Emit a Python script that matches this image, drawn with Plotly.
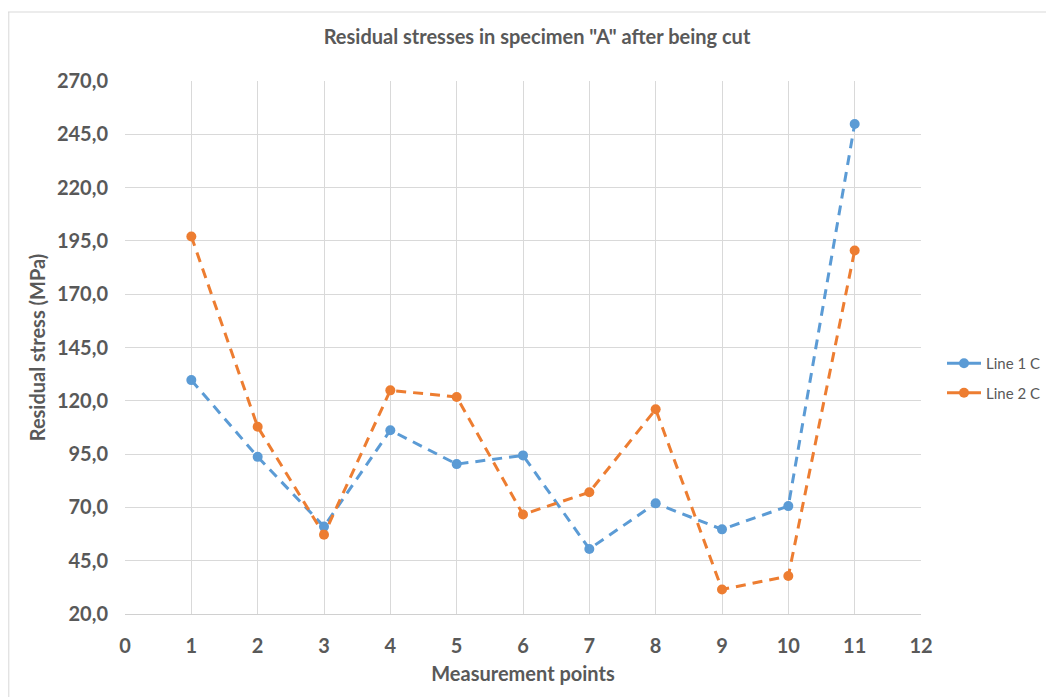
import plotly.graph_objects as go

points = [1, 2, 3, 4, 5, 6, 7, 8, 9, 10, 11]
line1_c = [129.7, 93.7, 61.0, 106.2, 90.3, 94.4, 50.5, 71.9, 59.7, 70.6, 249.8]
line2_c = [197.1, 107.8, 57.2, 124.9, 121.8, 66.7, 77.1, 116.0, 31.5, 37.8, 190.5]
series_names = ["Line 1 C", "Line 2 C"]
series_colors = ["#5B9BD5", "#ED7D31"]
y_tick_vals = [20, 45, 70, 95, 120, 145, 170, 195, 220, 245, 270]
y_tick_text = ["20,0", "45,0", "70,0", "95,0", "120,0", "145,0", "170,0", "195,0", "220,0", "245,0", "270,0"]
x_tick_vals = list(range(0, 13))

FONT = "Lato"
GREY = "#595959"

fig = go.Figure()
for name, vals, col in zip(series_names, [line1_c, line2_c], series_colors):
    fig.add_trace(go.Scatter(
        x=points, y=vals, name=name, mode="lines+markers", legendgroup=name,
        showlegend=False,
        line=dict(color=col, width=3, dash="10px,7px"),
        marker=dict(color=col, size=10),
    ))
    # legend entry drawn with a solid line like the original legend
    fig.add_trace(go.Scatter(
        x=[None], y=[None], name=name, mode="lines+markers", legendgroup=name,
        line=dict(color=col, width=3),
        marker=dict(color=col, size=10),
    ))

L, T, PW, PH = 117, 73, 796, 533
W, H = 1054, 697

fig.update_layout(
    width=W, height=H,
    margin=dict(l=L, r=W - L - PW, t=T, b=H - T - PH, autoexpand=False),
    paper_bgcolor="white", plot_bgcolor="white",
    title=dict(text='Residual stresses in specimen "A" after being cut',
               x=(537 - 8) / W, xanchor="center", y=1 - 29 / H, yanchor="middle",
               font=dict(family=FONT, size=20, color=GREY, weight="bold")),
    font=dict(family=FONT, color=GREY),
    legend=dict(x=(934 - L) / PW, xanchor="left", y=(614 - 378) / PH, yanchor="middle",
                font=dict(family=FONT, size=15, color=GREY),
                itemwidth=34, tracegroupgap=7, bgcolor="rgba(0,0,0,0)"),
    showlegend=True,
)

fig.update_xaxes(
    range=[0, 12], tickvals=x_tick_vals, showgrid=True, gridcolor="#d9d9d9", gridwidth=1,
    zeroline=False, showline=True, linecolor="#d0d0d0", linewidth=1,
    ticks="", ticklabelstandoff=14,
    tickfont=dict(family=FONT, size=20, color=GREY, weight="bold"),
    title=dict(text="Measurement points", standoff=10,
               font=dict(family=FONT, size=20, color=GREY, weight="bold")),
)
fig.update_yaxes(
    range=[20, 270], tickvals=y_tick_vals, ticktext=y_tick_text,
    showgrid=True, gridcolor="#d9d9d9", gridwidth=1,
    zeroline=False, showline=False, ticks="", ticklabelstandoff=16,
    tickfont=dict(family=FONT, size=20, color=GREY, weight="bold"),
    title=dict(text="Residual stress (MPa)", standoff=5,
               font=dict(family=FONT, size=20, color=GREY, weight="bold")),
)

# outer chart border (left and top edges visible in the reference)
top_y = 1 + (T - 4) / PH
fig.add_shape(type="line", xref="paper", yref="paper",
              x0=-L / PW + 0.001, x1=-L / PW + 0.001, y0=-0.3, y1=top_y,
              line=dict(color="#d9d9d9", width=1))
fig.add_shape(type="line", xref="paper", yref="paper",
              x0=-L / PW, x1=1.3, y0=top_y, y1=top_y,
              line=dict(color="#d9d9d9", width=1))

fig.write_html("out.html")
